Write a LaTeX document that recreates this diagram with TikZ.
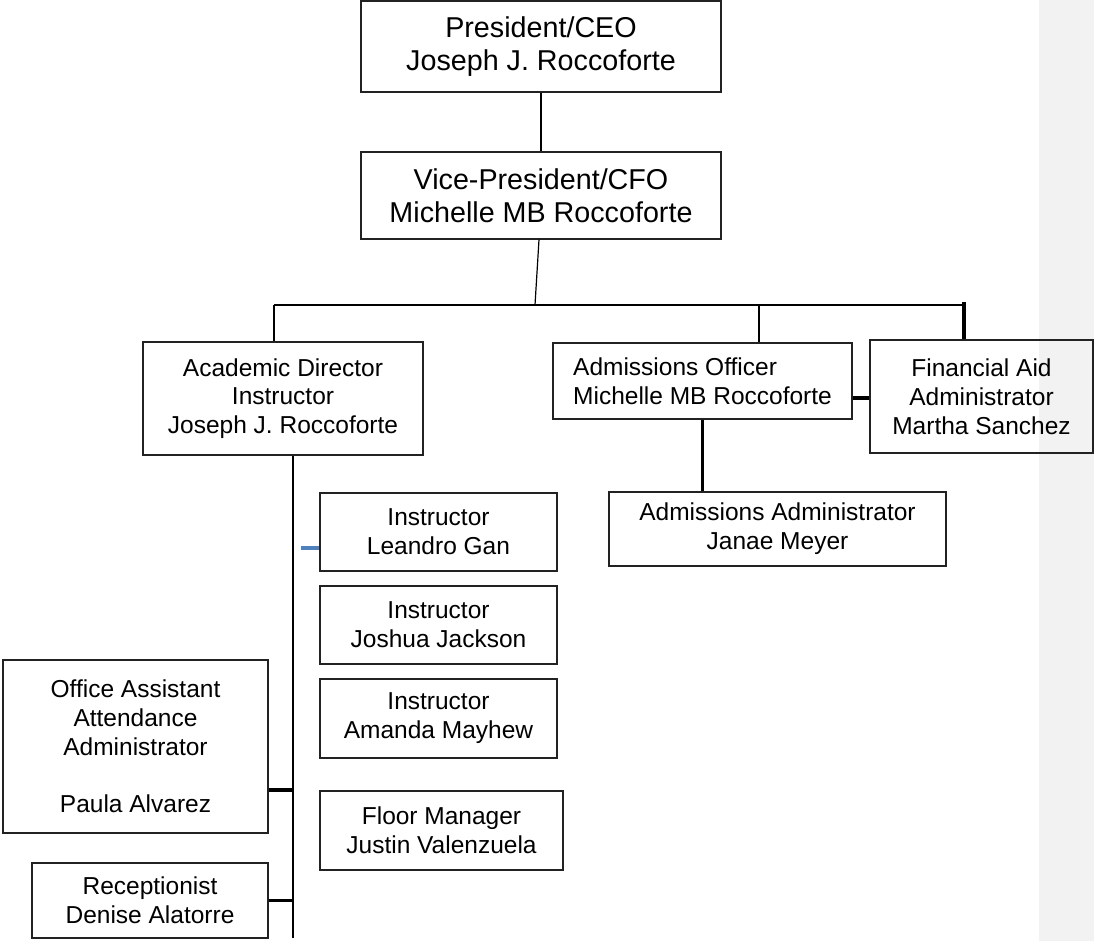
\documentclass[tikz,border=0pt]{standalone}
\usepackage{fontspec}
\setmainfont{Liberation Sans}
\definecolor{bandgrey}{HTML}{F2F2F2}
\definecolor{tickblue}{HTML}{4F81BD}
\definecolor{boxline}{HTML}{222222}
\tikzset{
  orgbox/.style={draw=boxline, line width=1.2pt, fill=none, inner sep=0pt, align=center, text=black},
  topfont/.style={font=\fontsize{28.7}{33}\selectfont},
  lowfont/.style={font=\fontsize{24.5}{28.8}\selectfont},
  thinlink/.style={draw=black, line width=1.2pt},
  mainlink/.style={draw=black, line width=1.6pt},
  thicklink/.style={draw=black, line width=3.8pt},
  ticklink/.style={draw=black, line width=3.4pt},
  bluelink/.style={draw=tickblue, line width=4pt}
}
\begin{document}
\begin{tikzpicture}[x=1pt, y=-1pt]
\useasboundingbox (0,0) rectangle (1094,941);
\fill[bandgrey] (1039,0) rectangle (1094,941);

% boxes
\node[orgbox, topfont, minimum width=360pt, minimum height=91pt] (pres) at (541,46.5) {President/CEO\\Joseph J. Roccoforte};
\node[orgbox, topfont, minimum width=360pt, minimum height=87pt] (vp) at (541,195.5) {Vice-President/CFO\\Michelle MB Roccoforte};
\node[orgbox, lowfont, minimum width=280pt, minimum height=113pt] (acad) at (283,398.5) {Academic Director\\Instructor\\Joseph J. Roccoforte};
\node[orgbox, lowfont, align=left, minimum width=299pt, minimum height=76pt] (adm) at (702.5,381) {Admissions Officer\\Michelle MB Roccoforte};
\node[orgbox, lowfont, minimum width=223pt, minimum height=113pt] (fin) at (981.5,396.5) {Financial Aid\\Administrator\\Martha Sanchez};
\node[orgbox, lowfont, minimum width=337pt, minimum height=74pt] (admin) at (777.5,529) {Admissions Administrator\\Janae Meyer};
\node[orgbox, lowfont, minimum width=237pt, minimum height=78pt] (leandro) at (438.5,532) {Instructor\\Leandro Gan};
\node[orgbox, lowfont, minimum width=237pt, minimum height=78pt] (joshua) at (438.5,625) {Instructor\\Joshua Jackson};
\node[orgbox, lowfont, minimum width=237pt, minimum height=79pt] (amanda) at (438.5,718.5) {Instructor\\Amanda Mayhew};
\node[orgbox, lowfont, minimum width=243pt, minimum height=79pt] (floor) at (441.5,830.5) {Floor Manager\\Justin Valenzuela};
\node[orgbox, lowfont, minimum width=265pt, minimum height=173pt] (office) at (135.5,746.5) {Office Assistant\\Attendance\\Administrator\\[28.8pt]Paula Alvarez};
\node[orgbox, lowfont, minimum width=236pt, minimum height=75pt] (recp) at (150,900.5) {Receptionist\\Denise Alatorre};

% coordinates
\coordinate (busmid) at (535,305);
\coordinate (busL) at (274,305);
\coordinate (busA) at (759,305);
\coordinate (busR) at (964,305);
\coordinate (vend) at (293,938);
\coordinate (bluefree) at (301,548);

% connectors
\draw[thinlink] (pres.south) -- (vp.north);
\draw[thinlink] ([xshift=-2pt]vp.south) -- (busmid);
\draw[thinlink] (busL) -- (busR);
\draw[thinlink] (busL) -- (busL |- acad.north);
\draw[thinlink] (busA) -- (busA |- adm.north);
\draw[thicklink] ([yshift=3pt]busR) -- (busR |- fin.north);
\draw[thicklink] ([yshift=-17pt]adm.east) -- ([yshift=-17pt]adm.east -| fin.west);
\draw[thicklink] (adm.south) -- (adm.south |- admin.north);
\draw[mainlink] (acad.south -| vend) -- (vend);
\draw[bluelink] ([yshift=-16pt]leandro.west) -- (bluefree);
\draw[ticklink] ([yshift=-43.5pt]office.east) -- ([yshift=-43.5pt]office.east -| vend);
\draw[ticklink] (recp.east) -- (recp.east -| vend);
\end{tikzpicture}
\end{document}
